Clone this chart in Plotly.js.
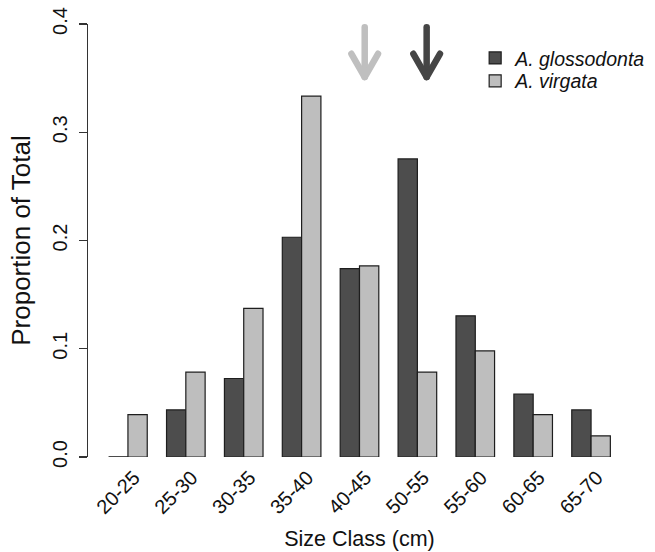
<!DOCTYPE html>
<html>
<head>
<meta charset="utf-8">
<script src="https://cdn.plot.ly/plotly-3.0.1.min.js"></script>
<style>
html, body { margin: 0; padding: 0; background: #fff; }
#chart { width: 655px; height: 552px; }
.scatterlayer .js-line { stroke-linecap: round; stroke-linejoin: round; }
</style>
</head>
<body>
<div id="chart"></div>
<script>
// ---- data ----
const categories = ["20-25", "25-30", "30-35", "35-40", "40-45", "50-55", "55-60", "60-65", "65-70"];
const glossodonta = [0, 0.0435, 0.0725, 0.203, 0.174, 0.2754, 0.1304, 0.058, 0.0435];
const virgata = [0.0392, 0.0784, 0.1373, 0.3333, 0.1765, 0.0784, 0.098, 0.0392, 0.0196];
const seriesNames = ["A. glossodonta", "A. virgata"];
const yTickVals = [0, 0.1, 0.2, 0.3, 0.4];
// arrow (mean size) positions, in category-index units
const arrowPos = [4.09, 5.16]; // [A. virgata, A. glossodonta]

const darkFill = "#4d4d4d";
const lightFill = "#bebebe";
const edge = "#1e1e1e";
const txt = "#111111";
const fontFam = "Liberation Sans, Arial, Helvetica, sans-serif";

const idx = categories.map((c, i) => i);

const traces = [
  {
    type: "bar", x: idx, y: glossodonta, name: seriesNames[0], legend: "legend",
    marker: { color: darkFill, line: { color: edge, width: 1.2 } },
    hoverinfo: "skip"
  },
  {
    type: "bar", x: idx, y: virgata, name: seriesNames[1], legend: "legend2",
    marker: { color: lightFill, line: { color: edge, width: 1.2 } },
    hoverinfo: "skip"
  }
];

// arrows
const arrowColors = ["#bfbfbf", "#454545"];
const arrowTop = 0.397, arrowTip = 0.351, headH = 0.0215, headW = 0.23;
arrowPos.forEach((ax, i) => {
  traces.push({
    type: "scatter", mode: "lines", showlegend: false, hoverinfo: "skip",
    cliponaxis: false,
    x: [ax, ax, null, ax - headW, ax, ax + headW],
    y: [arrowTop, arrowTip, null, arrowTip + headH, arrowTip, arrowTip + headH],
    line: { color: arrowColors[i], width: 6.5 }
  });
});

// zero-height bars drawn as flat line at the baseline (as R does)
const shapes = [];
glossodonta.forEach((v, i) => {
  if (v === 0) {
    shapes.push({ type: "line", xref: "x", yref: "y", x0: i - 1/3, x1: i, y0: 0, y1: 0,
      line: { color: edge, width: 1.2 } });
  }
});

const legFont = { family: fontFam, size: 19.5, style: "italic", color: txt };
const layout = {
  width: 655, height: 552,
  margin: { l: 88, r: 24, t: 24, b: 95, autoexpand: false },
  paper_bgcolor: "#ffffff", plot_bgcolor: "#ffffff",
  font: { family: fontFam, color: txt, size: 20 },
  barmode: "group", bargap: 1/3, bargroupgap: 0,
  showlegend: true,
  legend: {
    x: 0.713, y: 0.966, xanchor: "left", yanchor: "top",
    font: legFont, bgcolor: "rgba(0,0,0,0)", itemwidth: 30
  },
  legend2: {
    x: 0.713, y: 0.913, xanchor: "left", yanchor: "top",
    font: legFont, bgcolor: "rgba(0,0,0,0)", itemwidth: 30
  },
  xaxis: {
    range: [-0.69, 8.69], tickvals: idx, ticktext: categories, automargin: false,
    showline: false, showgrid: false, zeroline: false, ticks: "",
    tickangle: -45, ticklabelshift: 6, ticklabelstandoff: 4,
    tickfont: { size: 20, family: fontFam, color: txt },
    title: { text: "Size Class (cm)", font: { size: 21.5, family: fontFam, color: txt }, standoff: 13 }
  },
  yaxis: {
    range: [0, 0.4], tickvals: yTickVals, tickformat: ".1f", automargin: false,
    showline: true, linecolor: "#333333", linewidth: 1.2,
    ticks: "outside", ticklen: 8, tickwidth: 1.2, tickcolor: "#333333",
    showgrid: false, zeroline: false, tickangle: -90, ticklabelstandoff: 4,
    tickfont: { size: 20, family: fontFam, color: txt },
    title: { text: "Proportion of Total", font: { size: 26, family: fontFam, color: txt }, standoff: 10 }
  },
  shapes: shapes
};

Plotly.newPlot("chart", traces, layout, { displayModeBar: false, staticPlot: true });
</script>
</body>
</html>
